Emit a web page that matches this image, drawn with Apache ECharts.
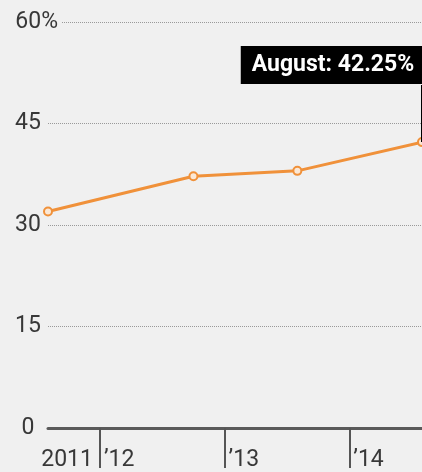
<!DOCTYPE html>
<html>
<head>
<meta charset="utf-8">
<script src="https://cdn.jsdelivr.net/npm/echarts@6/dist/echarts.min.js"></script>
<style>
html,body{margin:0;padding:0;background:#f0f0f0;}
#c{width:422px;height:472px;}
</style>
</head>
<body>
<div id="c"></div>
<script>
// months counted from Jan 2011 (0 = Jan 2011)
const months = [7, 21, 31, 43];
const values = [32.0, 37.2, 38.0, 42.25];
const yearTicks = [12, 24, 36];
const yearLabels = ['’12', '’13', '’14'];
const firstYearLabel = '2011';
const yTicks = [0, 15, 30, 45, 60];
const annotationMonth = 'August';

const FONT = 'Roboto, "Noto Sans", sans-serif';
const FS = 23;
const TXT = '#383838';

const chart = echarts.init(document.getElementById('c'), null, {renderer: 'canvas'});

const lastIdx = values.length - 1;
const seriesData = months.map((m, i) => {
  const item = {value: [m, values[i]]};
  if (i === lastIdx) {
    item.label = {
      show: true,
      position: 'inside',
      offset: [-89, -77],
      formatter: annotationMonth + ': ' + values[i].toFixed(2) + '%',
      backgroundColor: '#000',
      color: '#fff',
      fontWeight: 'bold',
      fontSize: 23,
      lineHeight: 26,
      fontFamily: FONT,
      padding: [6, 11, 6, 11]
    };
  }
  return item;
});

const baseX = {
  type: 'value',
  gridIndex: 0,
  position: 'bottom',
  min: months[0],
  max: months[lastIdx],
  splitLine: {show: false}
};

chart.setOption({
  backgroundColor: '#f0f0f0',
  animation: false,
  grid: {left: 48, right: 0, top: 22, bottom: 41, containLabel: false},
  xAxis: [
    Object.assign({}, baseX, {
      axisLine: {show: true, onZero: false, lineStyle: {color: '#5a5a5a', width: 3}},
      axisTick: {show: true, customValues: yearTicks, length: 40, lineStyle: {color: '#555', width: 2}},
      axisLabel: {
        customValues: yearTicks,
        align: 'left',
        margin: 21,
        padding: [0, 0, 0, 4],
        color: TXT,
        fontSize: FS,
        fontFamily: FONT,
        formatter: function (v) { return yearLabels[yearTicks.indexOf(v)]; }
      }
    }),
    Object.assign({}, baseX, {
      axisLine: {show: false, onZero: false},
      axisTick: {show: false},
      axisLabel: {
        customValues: [yearTicks[0]],
        align: 'right',
        margin: 21,
        padding: [0, 7, 0, 0],
        color: TXT,
        fontSize: FS,
        fontFamily: FONT,
        formatter: function () { return firstYearLabel; }
      }
    })
  ],
  yAxis: {
    type: 'value',
    min: yTicks[0],
    max: yTicks[yTicks.length - 1],
    interval: 15,
    axisLine: {show: false},
    axisTick: {show: false},
    axisLabel: {
      align: 'left',
      margin: 35,
      color: TXT,
      fontSize: FS,
      fontFamily: FONT,
      formatter: function (v) {
        if (v === yTicks[yTicks.length - 1]) return '{t|' + v + '%}';
        return '{n|' + v + '}{p| }';
      },
      rich: {
        t: {width: 45, align: 'right', fontSize: FS, fontFamily: FONT, color: TXT, backgroundColor: '#f0f0f0', padding: [0, 3, 0, 0]},
        n: {width: 30, align: 'right', fontSize: FS, fontFamily: FONT, color: TXT},
        p: {width: 18, align: 'left', fontSize: FS, fontFamily: FONT}
      }
    },
    splitLine: {show: true, lineStyle: {color: '#999', type: 'dotted', width: 1}}
  },
  series: [{
    type: 'line',
    data: seriesData,
    symbol: 'circle',
    symbolSize: 8,
    lineStyle: {color: '#f0913a', width: 3},
    itemStyle: {color: '#fbe8d6', borderColor: '#f0913a', borderWidth: 2},
    label: {show: false},
    z: 3,
    markLine: {
      silent: true,
      symbol: 'none',
      label: {show: false},
      lineStyle: {color: '#000', width: 2, type: 'solid'},
      data: [[{coord: [months[lastIdx], values[lastIdx]]}, {coord: [months[lastIdx], 50.7]}]]
    }
  }]
});
</script>
</body>
</html>
